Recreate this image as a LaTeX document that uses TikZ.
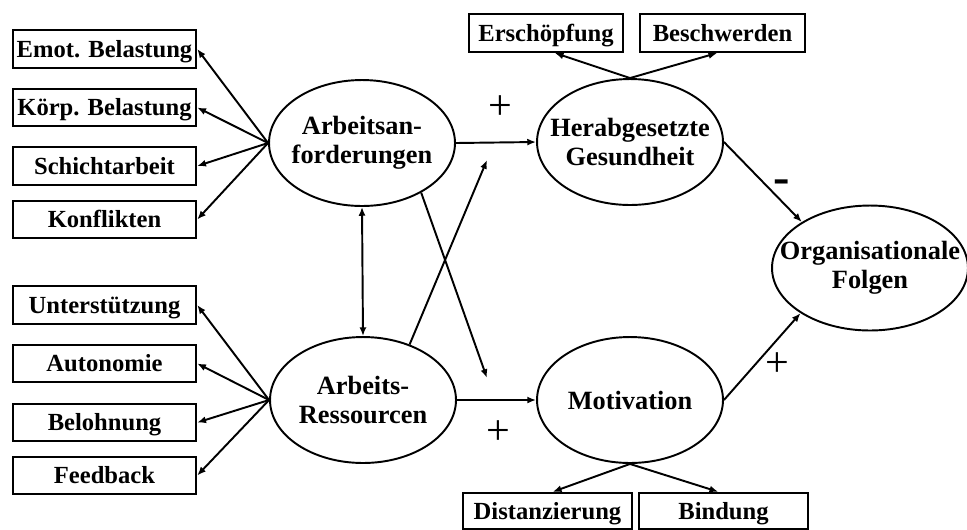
\documentclass[tikz,border=0pt]{standalone}
\usepackage{fontspec}
\setmainfont{Liberation Serif}
\usetikzlibrary{shapes.geometric,arrows.meta}

\begin{document}
\begin{tikzpicture}[x=0.02cm,y=-0.02cm,
  box/.style={draw,line width=1.4pt,inner sep=0pt,minimum height=0.75cm,text height=11.5pt,text depth=2pt,font=\fontsize{14}{16}\selectfont\bfseries},
  latent/.style={draw,ellipse,line width=1.1pt,inner sep=0pt,minimum width=3.72cm,minimum height=2.52cm},
  lattext/.style={align=center,font=\fontsize{15}{16.5}\selectfont\bfseries},
  pfeil/.style={line width=1.1pt,-{Latex[length=5pt,width=4pt]}},
  pfeilzwei/.style={line width=1.1pt,{Latex[length=5pt,width=4pt]}-{Latex[length=5pt,width=4pt]}},
  sign/.style={font=\fontsize{24}{24}\selectfont}]
%\draw[step=50,gray,very thin] (0,0) grid (967,529);
\useasboundingbox (0,0) rectangle (967,529);

% latente Variablen
\node[latent,label={[lattext]center:{Arbeitsan-\\forderungen}}] (anf) at (362,143) {};
\node[latent,label={[lattext]center:{Arbeits-\\Ressourcen}}] (res) at (363,400) {};
\node[latent,label={[lattext]center:{Herabgesetzte\\Gesundheit}}] (ges) at (630,142) {};
\node[latent,label={[lattext]center:{Motivation}}] (mot) at (630,400) {};
\node[latent,minimum width=3.92cm,minimum height=2.5cm,label={[lattext]center:{Organisationale\\Folgen}}] (org) at (870,268) {};

% Indikatoren links
\node[box,minimum width=3.66cm] (emot) at (104.5,49) {Emot. Belastung};
\node[box,minimum width=3.66cm] (koerp) at (104.5,107.5) {Körp. Belastung};
\node[box,minimum width=3.66cm] (schicht) at (104.5,166) {Schichtarbeit};
\node[box,minimum width=3.66cm] (konfl) at (104.5,219.5) {Konflikten};
\node[box,minimum width=3.66cm] (unter) at (104.5,305) {Unterstützung};
\node[box,minimum width=3.66cm] (auto) at (104.5,363.5) {Autonomie};
\node[box,minimum width=3.66cm] (beloh) at (104.5,422.5) {Belohnung};
\node[box,minimum width=3.66cm] (feed) at (104.5,475.5) {Feedback};

% Indikatoren oben und unten
\node[box,minimum width=3.08cm] (ersch) at (546,33) {Erschöpfung};
\node[box,minimum width=3.3cm] (beschw) at (722.5,33) {Beschwerden};
\node[box,minimum width=3.38cm,minimum height=0.72cm] (dist) at (547.5,511) {Distanzierung};
\node[box,minimum width=3.38cm,minimum height=0.72cm] (bind) at (723.5,511) {Bindung};

\foreach \b in {emot,koerp,schicht,konfl}
  \draw[pfeil] (anf.west) -- (\b.east);
\foreach \b in {unter,auto,beloh,feed}
  \draw[pfeil] (res.west) -- (\b.east);

\draw[pfeil] (ges.north) -- ([xshift=5pt]ersch.south);
\draw[pfeil] (ges.north) -- ([xshift=-3pt]beschw.south);
\draw[pfeil] (mot.south) -- ([xshift=3pt]dist.north);
\draw[pfeil] (mot.south) -- ([xshift=-3pt]bind.north);

\draw[pfeilzwei] (anf.south) -- (res.north);
\draw[pfeil] (anf.east) -- (ges.west);
\draw[pfeil] (res.east) -- (mot.west);
\coordinate (gesTip) at (487,160);
\coordinate (motTip) at (487,378);
\draw[pfeil] (res.50) -- (gesTip);
\draw[pfeil] (anf.-40) -- (motTip);
\draw[pfeil] (ges.east) -- (org.146);
\draw[pfeil] (mot.east) -- (org.213);

\node[sign] (plusA) at (500,108) {+};
\node[sign] (plusB) at (498,433) {+};
\node[sign] (plusC) at (777,365) {+};
\node[font=\fontsize{28}{28}\selectfont\bfseries] (minusG) at (782,187) {-};
\end{tikzpicture}
\end{document}
